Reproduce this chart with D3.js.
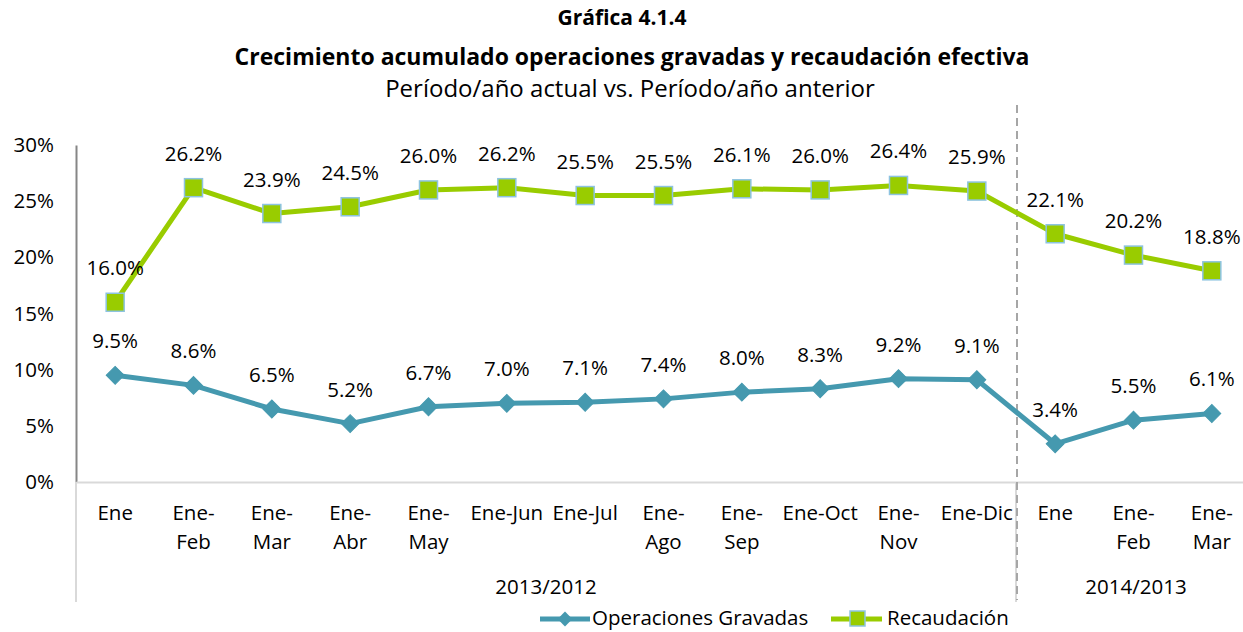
<!DOCTYPE html>
<html><head><meta charset="utf-8">
<script src="https://cdn.jsdelivr.net/npm/d3@7"></script>
<style>
html,body{margin:0;padding:0;background:#fff;}
svg text{font-family:"Open Sans","Lato",sans-serif;fill:#000;}
</style></head>
<body>
<svg id="c" width="1243" height="632"></svg>
<script>
const categories = ["Ene","Ene-Feb","Ene-Mar","Ene-Abr","Ene-May","Ene-Jun","Ene-Jul","Ene-Ago","Ene-Sep","Ene-Oct","Ene-Nov","Ene-Dic","Ene","Ene-Feb","Ene-Mar"];
const categoryLines = [["Ene"],["Ene-","Feb"],["Ene-","Mar"],["Ene-","Abr"],["Ene-","May"],["Ene-Jun"],["Ene-Jul"],["Ene-","Ago"],["Ene-","Sep"],["Ene-Oct"],["Ene-","Nov"],["Ene-Dic"],["Ene"],["Ene-","Feb"],["Ene-","Mar"]];
const groups = [{label:"2013/2012", from:0, to:11},{label:"2014/2013", from:12, to:14}];
const operaciones = [9.5,8.6,6.5,5.2,6.7,7.0,7.1,7.4,8.0,8.3,9.2,9.1,3.4,5.5,6.1];
const recaudacion = [16.0,26.2,23.9,24.5,26.0,26.2,25.5,25.5,26.1,26.0,26.4,25.9,22.1,20.2,18.8];
const yTicks = [0,5,10,15,20,25,30];
const seriesNames = ["Operaciones Gravadas","Recaudación"];

const svg = d3.select("#c");
const mLeft = 76, mRight = 1251, mTop = 145, mBottom = 482;
const idx = d3.range(categories.length);
const x = d3.scaleBand().domain(idx).range([mLeft,mRight]).paddingInner(0).paddingOuter(0);
const y = d3.scaleLinear().domain([0,30]).range([mBottom,mTop]);
const cx = i => x(i) + x.bandwidth()/2;

const blue = "#4599AF", green = "#99CC00", sqStroke = "#8DC3E0";
const fs = 20.5;

// titles
svg.append("text").attr("x",622).attr("y",25).attr("text-anchor","middle").attr("font-size",21).attr("font-weight","bold").text("Gráfica 4.1.4");
svg.append("text").attr("x",632).attr("y",65).attr("text-anchor","middle").attr("font-size",23).attr("font-weight","bold").text("Crecimiento acumulado operaciones gravadas y recaudación efectiva");
svg.append("text").attr("x",630).attr("y",97).attr("text-anchor","middle").attr("font-size",24).text("Período/año actual vs. Período/año anterior");

// y axis
const yAxis = d3.axisLeft(y).tickValues(yTicks).tickFormat(d=>d+"%").tickSize(0).tickPadding(22);
const gy = svg.append("g").attr("transform",`translate(${mLeft},0)`).call(yAxis);
gy.select(".domain").attr("stroke","#868686").attr("stroke-width",2);
gy.selectAll("text").attr("font-size",fs).attr("font-family",null).attr("fill","#000");

// x axis baseline
const xAxis = d3.axisBottom(x).tickSize(0).tickFormat("");
const gx = svg.append("g").attr("transform",`translate(0,${mBottom})`).call(xAxis);
gx.select(".domain").attr("stroke","#D9D9D9").attr("stroke-width",2);

// category labels
idx.forEach(i=>{
  const t = svg.append("text").attr("x",cx(i)).attr("y",520).attr("text-anchor","middle").attr("font-size",fs);
  categoryLines[i].forEach((ln,k)=>t.append("tspan").attr("x",cx(i)).attr("dy",k?29:0).text(ln));
});

// group separators
const sepXs = [x(0), x(groups[1].from)];
sepXs.forEach(sx=>{
  svg.append("line").attr("x1",sx).attr("x2",sx).attr("y1",mBottom).attr("y2",602).attr("stroke","#D9D9D9").attr("stroke-width",2);
});
groups.forEach((g,k)=>{
  const gx0 = x(g.from), gx1 = x(g.to)+x.bandwidth();
  const mid = k===1 ? 1136 : (gx0+gx1)/2;
  svg.append("text").attr("x",mid).attr("y",594).attr("text-anchor","middle").attr("font-size",fs).text(g.label);
});

// dashed divider
const dx = x(groups[1].from) + 1;
svg.append("line").attr("x1",dx).attr("x2",dx).attr("y1",105).attr("y2",600).attr("stroke","#A6A6A6").attr("stroke-width",2).attr("stroke-dasharray","8,5");

// lines
const line = d3.line().x((d,i)=>cx(i)).y(d=>y(d));
svg.append("path").datum(operaciones).attr("d",line).attr("fill","none").attr("stroke",blue).attr("stroke-width",5).attr("stroke-linejoin","round");
svg.append("path").datum(recaudacion).attr("d",line).attr("fill","none").attr("stroke",green).attr("stroke-width",5).attr("stroke-linejoin","round");

// markers
svg.selectAll(".dm").data(operaciones).join("path")
  .attr("d", d3.symbol().type(d3.symbolSquare).size(160))
  .attr("transform",(d,i)=>`translate(${cx(i)},${y(d)}) rotate(45)`)
  .attr("fill",blue).attr("stroke",blue).attr("stroke-width",1);
svg.selectAll(".sq").data(recaudacion).join("rect")
  .attr("x",(d,i)=>cx(i)-9).attr("y",d=>y(d)-9).attr("width",18).attr("height",18)
  .attr("fill",green).attr("stroke",sqStroke).attr("stroke-width",1.5);

// data labels
const fmt = d=>d.toFixed(1)+"%";
[operaciones,recaudacion].forEach(s=>{
  s.forEach((d,i)=>{
    svg.append("text").attr("x",cx(i)).attr("y",y(d)-27).attr("text-anchor","middle").attr("font-size",fs).text(fmt(d));
  });
});

// legend
const ly = 619;
const lg1 = svg.append("g");
lg1.append("line").attr("x1",540).attr("x2",590).attr("y1",ly).attr("y2",ly).attr("stroke",blue).attr("stroke-width",5);
lg1.append("path").attr("d",d3.symbol().type(d3.symbolSquare).size(110)).attr("transform",`translate(565,${ly}) rotate(45)`).attr("fill",blue);
lg1.append("text").attr("x",592).attr("y",ly+6).attr("font-size",fs).text(seriesNames[0]);
const lg2 = svg.append("g");
lg2.append("line").attr("x1",831).attr("x2",882).attr("y1",ly).attr("y2",ly).attr("stroke",green).attr("stroke-width",5);
lg2.append("rect").attr("x",850).attr("y",ly-8).attr("width",15).attr("height",15).attr("fill",green).attr("stroke",sqStroke).attr("stroke-width",1.5);
lg2.append("text").attr("x",887).attr("y",ly+6).attr("font-size",fs).text(seriesNames[1]);
</script>
</body></html>
